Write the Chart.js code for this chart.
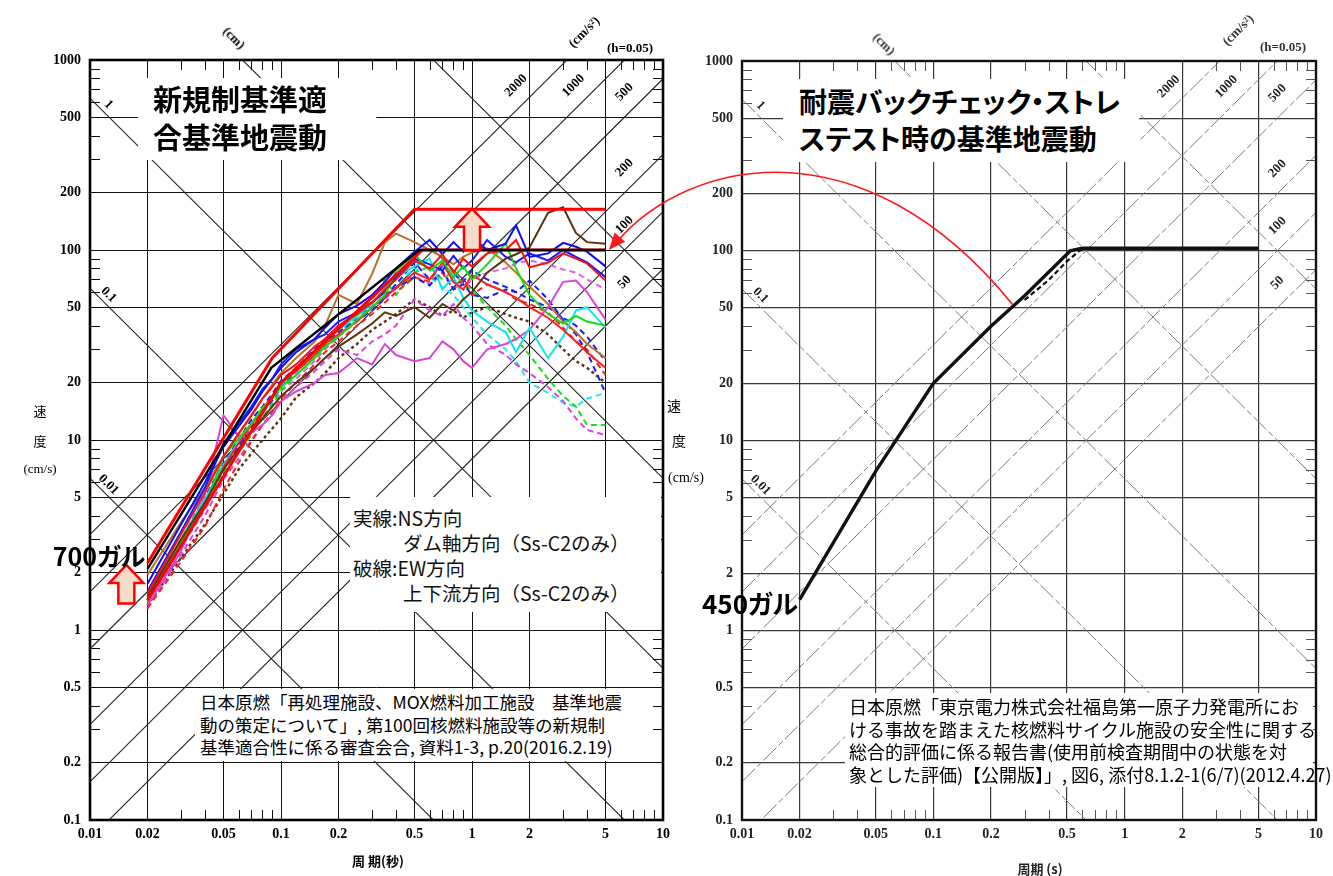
<!DOCTYPE html>
<html lang="ja">
<head>
<meta charset="utf-8">
<title>基準地震動の比較</title>
<script src="https://cdn.jsdelivr.net/npm/chart.js@4.4.1/dist/chart.umd.min.js"></script>
<style>
  html, body { margin: 0; padding: 0; background: #fff; }
  #stage { position: relative; width: 1333px; height: 876px; overflow: hidden; font-family: "Noto Sans CJK JP", "Noto Sans", sans-serif; }
  canvas { position: absolute; top: 0; }
  #leftChart { left: 0; }
  #rightChart { left: 680px; }
  #overlay { left: 0; pointer-events: none; z-index: 5; }
  .box { position: absolute; background: #fff; z-index: 2; box-sizing: border-box; }
  .lbl { position: absolute; white-space: nowrap; z-index: 3; }
  .title { font-weight: 700; font-size: 29px; line-height: 38px; color: #000; font-feature-settings: "palt"; white-space: nowrap; }
  .legend { font-size: 19.5px; line-height: 25px; color: #111; white-space: nowrap; }
  .cite { font-size: 17.5px; line-height: 22.6px; color: #000; white-space: nowrap; }
</style>
</head>
<body>
<div id="stage">
  <canvas id="leftChart" width="680" height="876"></canvas>
  <canvas id="rightChart" width="653" height="876"></canvas>

  <div class="box title" style="left:138px;top:78px;width:238px;height:82px;padding:1px 0 0 15px;">新規制基準適<br>合基準地震動</div>
  <div class="box title" style="left:783px;top:79px;width:356px;height:83px;padding:4px 0 0 16px;font-size:28px;line-height:37px;">耐震バックチェック・ストレ<br>ステスト時の基準地震動</div>

  <div class="box legend" style="left:350px;top:497px;width:311px;height:115px;padding:8px 0 0 3px;">
    実線:NS方向<br><span style="padding-left:50px">ダム軸方向（Ss-C2のみ）</span><br>
    破線:EW方向<br><span style="padding-left:50px">上下流方向（Ss-C2のみ）</span>
  </div>

  <div class="box cite" style="left:195px;top:689px;width:442px;height:72px;padding:2px 0 0 5px;">
    日本原燃「再処理施設、MOX燃料加工施設　基準地震<br>動の策定について」, 第100回核燃料施設等の新規制<br>基準適合性に係る審査会合, 資料1-3, p.20(2016.2.19)
  </div>
  <div class="box cite" style="left:845px;top:693px;width:468px;height:94px;padding:2px 0 0 4px;font-size:18px;line-height:22.7px;">
    日本原燃「東京電力株式会社福島第一原子力発電所にお<br>ける事故を踏まえた核燃料サイクル施設の安全性に関する<br>総合的評価に係る報告書(使用前検査期間中の状態を対<br>象とした評価)【公開版】」, 図6, 添付8.1.2-1(6/7)(2012.4.27)
  </div>

  <canvas id="overlay" width="1333" height="876"></canvas>
</div>

<script>
// ---- periods (s) shared by every spectrum on the left ----
const periods = [0.02, 0.03, 0.04, 0.05, 0.06, 0.07, 0.08, 0.09, 0.1, 0.12, 0.15, 0.17, 0.2, 0.25, 0.3, 0.35,
                 0.4, 0.5, 0.6, 0.7, 0.8, 0.9, 1.0, 1.2, 1.5, 1.7, 2.0, 2.5, 3.0, 3.5, 4.0, 5.0];

// ---- velocity response spectra (cm/s), solid = NS / dam axis ----
const redSolid1    = [1.55, 3.2, 5.3, 8.2, 10.8, 13.5, 16.5, 19, 22, 25, 31, 34, 40, 46, 53, 62, 70, 88, 80, 95, 76, 90, 82, 96, 100, 113, 81, 86, 96, 90, 85, 69];
const redSolid2    = [1.45, 2.9, 4.6, 7.2, 9.6, 12, 14.5, 17, 20, 23, 28, 32, 36, 42, 50, 57, 63, 76, 70, 86, 68, 62, 74, 66, 60, 56, 50, 44, 38, 33, 29, 24];
const blueSolid1   = [1.75, 3.6, 6.0, 9.2, 11.8, 14.5, 18, 21, 24, 29, 34, 39, 46, 51, 58, 68, 80, 98, 113, 95, 110, 98, 117, 100, 108, 135, 92, 96, 109, 104, 98, 82];
const blueSolid2   = [1.6, 3.3, 5.6, 9.6, 12.2, 15, 18.5, 21, 25, 30, 34, 36, 42, 47, 53, 60, 72, 90, 84, 78, 93, 80, 88, 113, 92, 86, 96, 88, 100, 92, 86, 72];
const greenSolid   = [1.45, 2.9, 4.5, 8.2, 10.2, 12.2, 14.8, 16.5, 19, 22, 27, 31, 35, 43, 50, 58, 78, 95, 78, 88, 72, 82, 70, 84, 108, 80, 58, 46, 41, 45, 42, 40];
const magentaSolid = [1.35, 2.6, 5.2, 13.5, 10.5, 11, 12, 13.5, 16, 18, 20, 22, 22.5, 27, 25, 32, 28, 26, 27, 33, 30, 26, 24, 30, 32, 34, 38, 50, 68, 69, 60, 43];
const cyanSolid    = [1.5, 3.0, 4.9, 7.4, 9.8, 12.2, 14.5, 16.5, 19.5, 23.5, 28.5, 33, 38, 45, 52, 63, 72, 82, 90, 62, 72, 56, 48, 42, 37, 29, 39, 27, 35, 48, 50, 39];
const brownSolid   = [1.5, 3.0, 4.7, 7.0, 9.0, 11, 13, 15, 17, 20, 24, 27, 31, 36, 41, 47, 45, 50, 44, 52, 48, 55, 60, 76, 90, 95, 103, 157, 168, 123, 110, 108];
const orangeSolid  = [1.95, 3.7, 5.6, 8.2, 10.8, 13.4, 16.5, 19.5, 22.5, 27, 33, 40, 58, 52, 75, 110, 122, 110, 100, 92, 84, 92, 97, 102, 86, 76, 64, 52, 42, 37, 32, 27];

// ---- dashed = EW / up-down stream ----
const redDashed      = [1.3, 2.3, 3.5, 5.5, 7.6, 9.8, 12, 14, 16.5, 20, 25, 29, 33, 40, 46, 53, 60, 72, 68, 76, 62, 70, 58, 66, 60, 55, 52, 47, 39, 33, 30, 22];
const blueDashed1    = [1.5, 3.0, 5.0, 7.6, 10, 12.8, 15, 17.5, 20.5, 24, 30, 34, 40, 46, 50, 58, 63, 72, 65, 78, 62, 66, 58, 56, 62, 60, 69, 55, 43, 36, 29, 17.7];
const blueDashed2    = [1.45, 2.9, 4.8, 7.0, 9.3, 11.6, 14, 16.2, 19, 23, 28, 32, 37, 43, 48, 56, 66, 86, 70, 82, 75, 68, 78, 70, 64, 60, 55, 50, 44, 40, 35, 26];
const greenDashed    = [1.4, 2.8, 4.4, 6.8, 8.6, 10.6, 13, 15.5, 18.2, 22, 27, 31, 36, 45, 55, 70, 58, 76, 82, 70, 78, 65, 62, 50, 40, 34, 28, 21, 17, 15, 12, 12];
const magentaDashed1 = [1.3, 2.5, 4.0, 6.2, 8.0, 10, 12, 13.5, 16, 19, 23, 26, 30, 28, 33, 36, 40, 55, 48, 45, 52, 44, 40, 32, 28, 25, 22.5, 19, 16, 13, 11.3, 10.6];
const magentaDashed2 = [1.4, 2.7, 4.3, 6.6, 8.8, 11, 13.2, 15, 18, 21, 26, 30, 35, 42, 48, 55, 63, 72, 66, 74, 68, 62, 70, 76, 80, 85, 88, 84, 79, 76, 70, 62];
const cyanDashed     = [1.45, 2.9, 4.6, 7.0, 9.5, 12, 14, 16, 19, 23, 28, 32, 38, 44, 50, 58, 66, 80, 72, 64, 58, 50, 44, 36, 30, 26, 20, 17.7, 15.7, 15, 16.5, 17.7];
const brownDashed    = [1.35, 2.4, 3.6, 5.2, 7, 8.5, 10, 11.5, 13, 16.8, 20, 22.5, 27, 32, 38, 42, 46, 55, 50, 45, 48, 44, 47, 50, 46, 44, 42, 36, 30, 26, 24, 20];

// ---- design spectra ----
const newEnvT = [0.02, 0.09, 0.5, 5];      // new standard (700 gal)
const newEnvV = [2.25, 27, 164, 164];
const ssEnvT  = [0.02, 0.089, 0.53, 5];    // black envelope
const ssEnvV  = [2.1, 24, 100, 100];
const oldEnvT = [0.02, 0.1, 0.55, 5];      // old standard (450 gal), overlaid
const oldEnvV = [1.43, 20, 100, 100];

const oldRightT = [0.02, 0.05, 0.1, 0.2, 0.3, 0.52, 0.6, 5];
const oldRightV = [1.45, 6.9, 20, 40, 58, 100, 103, 103];
const oldRightDashT = [0.3, 0.4, 0.5, 0.58, 0.65];
const oldRightDashV = [55, 70, 88, 100, 103];

// ---- axes and tripartite grid ----
const xTicks = [0.01, 0.02, 0.05, 0.1, 0.2, 0.5, 1, 2, 5, 10];
const yTicks = [0.1, 0.2, 0.5, 1, 2, 5, 10, 20, 50, 100, 200, 500, 1000];
const minorSteps = [3, 4, 6, 7, 8, 9];
const dispLines = [0.01, 0.1, 1, 10, 100];                 // cm
const dispLabelled = [0.01, 0.1, 1];
const accelLines = [50, 100, 200, 500, 1000, 2000];        // cm/s2
const accelLabelT = [8.5, 8.5, 8.5, 8.5, 4.6, 2.3];

// ---- arrows (period, from V, to V) ----
const raiseArrows = [
  { t: 1.0, from: 100, to: 165 },
  { t: 0.0155, from: 1.38, to: 2.2 }
];
const pointerFrom = { t: 0.26, v: 52 };   // on the right chart
const pointerTo = { t: 5.2, v: 100 };     // on the left chart

const TWO_PI = 2 * Math.PI;

function pts(tArr, vArr) {
  return tArr.map((t, i) => ({ x: t, y: vArr[i] }));
}

function spectrum(vals, color, dashed, width) {
  return {
    data: pts(periods, vals),
    borderColor: color,
    borderWidth: width || 2,
    borderDash: dashed ? (Array.isArray(dashed) ? dashed : [6, 4]) : [],
    pointRadius: 0,
    tension: 0,
    showLine: true
  };
}

function envelope(t, v, color, width, dash) {
  return { data: pts(t, v), borderColor: color, borderWidth: width, borderDash: dash || [],
           pointRadius: 0, showLine: true, tension: 0 };
}

function fmt(v) { return String(v); }

function tripartite(st) {
  return {
    id: 'tripartite',
    beforeDatasetsDraw(chart) {
      const { ctx, chartArea: a, scales: { x, y } } = chart;
      const px = (t) => x.getPixelForValue(t);
      const py = (v) => y.getPixelForValue(v);
      const line = (f) => {
        ctx.beginPath();
        ctx.moveTo(px(1e-3), py(f(1e-3)));
        ctx.lineTo(px(100), py(f(100)));
        ctx.stroke();
      };

      ctx.save();
      ctx.beginPath();
      ctx.rect(a.left, a.top, a.right - a.left, a.bottom - a.top);
      ctx.clip();
      ctx.strokeStyle = st.diagColor;
      ctx.lineWidth = st.diagWidth;
      ctx.setLineDash(st.diagDash || []);
      dispLines.forEach(d => line(t => TWO_PI * d / t));
      accelLines.forEach(A => line(t => A * t / TWO_PI));
      ctx.setLineDash([]);
      ctx.restore();

      // minor ticks on the four borders
      ctx.save();
      ctx.strokeStyle = st.tickColor;
      ctx.lineWidth = 1;
      ctx.beginPath();
      [0.01, 0.1, 1].forEach(dec => minorSteps.forEach(m => {
        const xx = Math.round(px(m * dec)) + 0.5;
        ctx.moveTo(xx, a.top); ctx.lineTo(xx, a.top + 10);
        ctx.moveTo(xx, a.bottom); ctx.lineTo(xx, a.bottom - 10);
      }));
      [0.1, 1, 10, 100].forEach(dec => minorSteps.forEach(m => {
        const yy = Math.round(py(m * dec)) + 0.5;
        ctx.moveTo(a.left, yy); ctx.lineTo(a.left + 10, yy);
        ctx.moveTo(a.right, yy); ctx.lineTo(a.right - 10, yy);
      }));
      ctx.stroke();
      ctx.restore();

      // labels on the diagonals
      ctx.save();
      ctx.fillStyle = st.textColor;
      ctx.font = 'bold 13px "Liberation Serif", serif';
      ctx.textAlign = 'center';
      ctx.textBaseline = 'middle';
      dispLabelled.forEach(d => {
        const t = 0.0125;
        ctx.save();
        ctx.translate(px(t), py(TWO_PI * d / t) - 12);
        ctx.rotate(Math.PI / 4);
        ctx.fillText(String(d), 0, 0);
        ctx.restore();
      });
      accelLines.forEach((A, i) => {
        const t = accelLabelT[i];
        ctx.save();
        ctx.translate(px(t) - 25, py(A * t / TWO_PI));
        ctx.rotate(-Math.PI / 4);
        ctx.fillText(String(A), 0, 0);
        ctx.restore();
      });
      ctx.restore();
    },
    afterDatasetsDraw(chart) {
      const { ctx, chartArea: a, scales: { x, y } } = chart;
      if (st.arrows) {
        ctx.save();
        ctx.fillStyle = '#f6dccb';
        ctx.strokeStyle = '#ff0000';
        ctx.lineWidth = 2.5;
        ctx.lineJoin = 'miter';
        st.arrows.forEach(ar => {
          const cx = x.getPixelForValue(ar.t);
          const tip = y.getPixelForValue(ar.to);
          const base = y.getPixelForValue(ar.from);
          const hh = 18, sw = 8, hw = 17;
          ctx.beginPath();
          ctx.moveTo(cx, tip);
          ctx.lineTo(cx + hw, tip + hh);
          ctx.lineTo(cx + sw, tip + hh);
          ctx.lineTo(cx + sw, base);
          ctx.lineTo(cx - sw, base);
          ctx.lineTo(cx - sw, tip + hh);
          ctx.lineTo(cx - hw, tip + hh);
          ctx.closePath();
          ctx.fill();
          ctx.stroke();
        });
        ctx.restore();
      }
      ctx.save();
      ctx.strokeStyle = st.frameColor;
      ctx.lineWidth = st.frameWidth;
      ctx.strokeRect(a.left, a.top, a.right - a.left, a.bottom - a.top);
      ctx.restore();
    }
  };
}

function baseOptions(st) {
  return {
    responsive: false,
    animation: false,
    devicePixelRatio: 1,
    events: [],
    layout: { padding: { top: st.top, right: st.right, left: 0, bottom: 0 } },
    plugins: { legend: { display: false }, tooltip: { enabled: false } },
    scales: {
      x: {
        type: 'logarithmic', min: 0.01, max: 10,
        afterBuildTicks: (s) => { s.ticks = xTicks.map(v => ({ value: v })); },
        afterFit: (s) => { s.height = 876 - st.bottom; },
        grid: { color: st.gridColor, lineWidth: st.gridWidth, drawTicks: false },
        border: { display: false },
        ticks: { callback: fmt, autoSkip: false, maxRotation: 0, padding: 6, color: st.textColor,
                 font: { family: '"Liberation Serif", serif', size: 14, weight: 'bold' } }
      },
      y: {
        type: 'logarithmic', min: 0.1, max: 1000,
        afterBuildTicks: (s) => { s.ticks = yTicks.map(v => ({ value: v })); },
        afterFit: (s) => { s.width = st.axisWidth; },
        grid: { color: st.gridColor, lineWidth: st.gridWidth, drawTicks: false },
        border: { display: false },
        ticks: { callback: fmt, autoSkip: false, padding: 9, color: st.textColor,
                 font: { family: '"Liberation Serif", serif', size: 14, weight: 'bold' } }
      }
    }
  };
}

const leftStyle = {
  top: 60, bottom: 820, right: 17, axisWidth: 90,
  gridColor: '#111', gridWidth: 1, diagColor: '#222', diagWidth: 1.1, tickColor: '#111',
  frameColor: '#000', frameWidth: 2.6, textColor: '#000', arrows: raiseArrows
};
const rightStyle = {
  top: 61, bottom: 820, right: 17, axisWidth: 62,
  gridColor: '#3a3a3a', gridWidth: 1.2, diagColor: '#7a7a7a', diagWidth: 1, diagDash: [18, 3, 6, 3],
  tickColor: '#555', frameColor: '#111', frameWidth: 2.4, textColor: '#222'
};

const leftChart = new Chart(document.getElementById('leftChart'), {
  type: 'scatter',
  data: {
    datasets: [
      envelope(newEnvT, newEnvV, '#ff0000', 3),
      envelope(ssEnvT, ssEnvV, '#000000', 2.4),
      envelope(oldEnvT, oldEnvV, '#ff0000', 3),
      spectrum(redSolid1, '#ff1010'),
      spectrum(blueSolid1, '#0a0aff'),
      spectrum(brownSolid, '#5a3410'),
      spectrum(greenSolid, '#10dd10'),
      spectrum(blueSolid2, '#1a1aff'),
      spectrum(redSolid2, '#ff2020'),
      spectrum(cyanSolid, '#10e4ee'),
      spectrum(orangeSolid, '#b8722c'),
      spectrum(magentaSolid, '#d846d8'),
      spectrum(blueDashed1, '#1a1aff', true),
      spectrum(redDashed, '#ff2020', true),
      spectrum(blueDashed2, '#2020ff', true),
      spectrum(greenDashed, '#18e018', true),
      spectrum(magentaDashed2, '#e060e0', true),
      spectrum(magentaDashed1, '#e040e0', true),
      spectrum(cyanDashed, '#20e8f0', true),
      spectrum(brownDashed, '#5a3410', [3, 3], 2.4)
    ]
  },
  options: baseOptions(leftStyle),
  plugins: [tripartite(leftStyle)]
});

const rightChart = new Chart(document.getElementById('rightChart'), {
  type: 'scatter',
  data: {
    datasets: [
      envelope(oldRightDashT, oldRightDashV, '#111', 2.2, [5, 3]),
      envelope(oldRightT, oldRightV, '#111', 3.4)
    ]
  },
  options: baseOptions(rightStyle),
  plugins: [tripartite(rightStyle)]
});

// ---- HTML labels around the charts ----
const stage = document.getElementById('stage');
function label(text, cx, cy, css, rot) {
  const d = document.createElement('div');
  d.className = 'lbl';
  d.textContent = text;
  d.style.cssText += css;
  d.style.left = cx + 'px';
  d.style.top = cy + 'px';
  d.style.transform = 'translate(-50%,-50%)' + (rot ? ' rotate(' + rot + 'deg)' : '');
  stage.appendChild(d);
}
const serif = 'font-family:"Liberation Serif",serif;font-weight:700;font-size:13px;color:#000;';
const serifR = 'font-family:"Liberation Serif",serif;font-weight:700;font-size:13px;color:#333;';
label('(cm)', 234, 38, serif, 45);
label('(cm/s²)', 584, 32, serif, -45);
label('(h=0.05)', 630, 48, serif);
label('(cm)', 884, 44, serifR, 45);
label('(cm/s²)', 1238, 30, serifR, -45);
label('(h=0.05)', 1283, 47, serifR);

label('速', 40, 410, 'font-size:13px;color:#000;');
label('度', 40, 440, 'font-size:13px;color:#000;');
label('(cm/s)', 40, 469, serif + 'font-weight:400;font-size:13px;');
label('速', 674, 405, 'font-size:14px;color:#000;');
label('度', 679, 440, 'font-size:14px;color:#000;');
label('(cm/s)', 686, 478, serif + 'font-weight:400;font-size:14px;');
label('周 期(秒)', 378, 860, 'font-size:13px;font-weight:700;color:#000;');
label('周期 (s)', 1040, 868, 'font-size:13px;font-weight:700;color:#222;');

label('700ガル', 99, 555, 'font-size:25px;font-weight:700;color:#000;font-feature-settings:"palt";');
label('450ガル', 750, 602, 'font-size:26px;font-weight:700;color:#000;font-feature-settings:"palt";');

// ---- red pointer from the old standard (right) to the left chart ----
(function drawPointer() {
  const ov = document.getElementById('overlay').getContext('2d');
  const p0 = { x: 680 + rightChart.scales.x.getPixelForValue(pointerFrom.t), y: rightChart.scales.y.getPixelForValue(pointerFrom.v) };
  const p3 = { x: leftChart.scales.x.getPixelForValue(pointerTo.t), y: leftChart.scales.y.getPixelForValue(pointerTo.v) };
  const p1 = { x: p0.x - 150, y: p0.y - 185 };
  const p2 = { x: p3.x + 80, y: p3.y - 92 };
  ov.strokeStyle = '#ff1a1a';
  ov.lineWidth = 1.6;
  ov.beginPath();
  ov.moveTo(p0.x, p0.y);
  ov.bezierCurveTo(p1.x, p1.y, p2.x, p2.y, p3.x + 8, p3.y - 8);
  ov.stroke();
  const dx = p3.x - p2.x, dy = p3.y - p2.y, len = Math.hypot(dx, dy);
  const ux = dx / len, uy = dy / len;
  const hl = 17, hw = 7;
  ov.fillStyle = '#ff1a1a';
  ov.beginPath();
  ov.moveTo(p3.x, p3.y);
  ov.lineTo(p3.x - ux * hl - uy * hw, p3.y - uy * hl + ux * hw);
  ov.lineTo(p3.x - ux * hl + uy * hw, p3.y - uy * hl - ux * hw);
  ov.closePath();
  ov.fill();
})();
</script>
</body>
</html>
